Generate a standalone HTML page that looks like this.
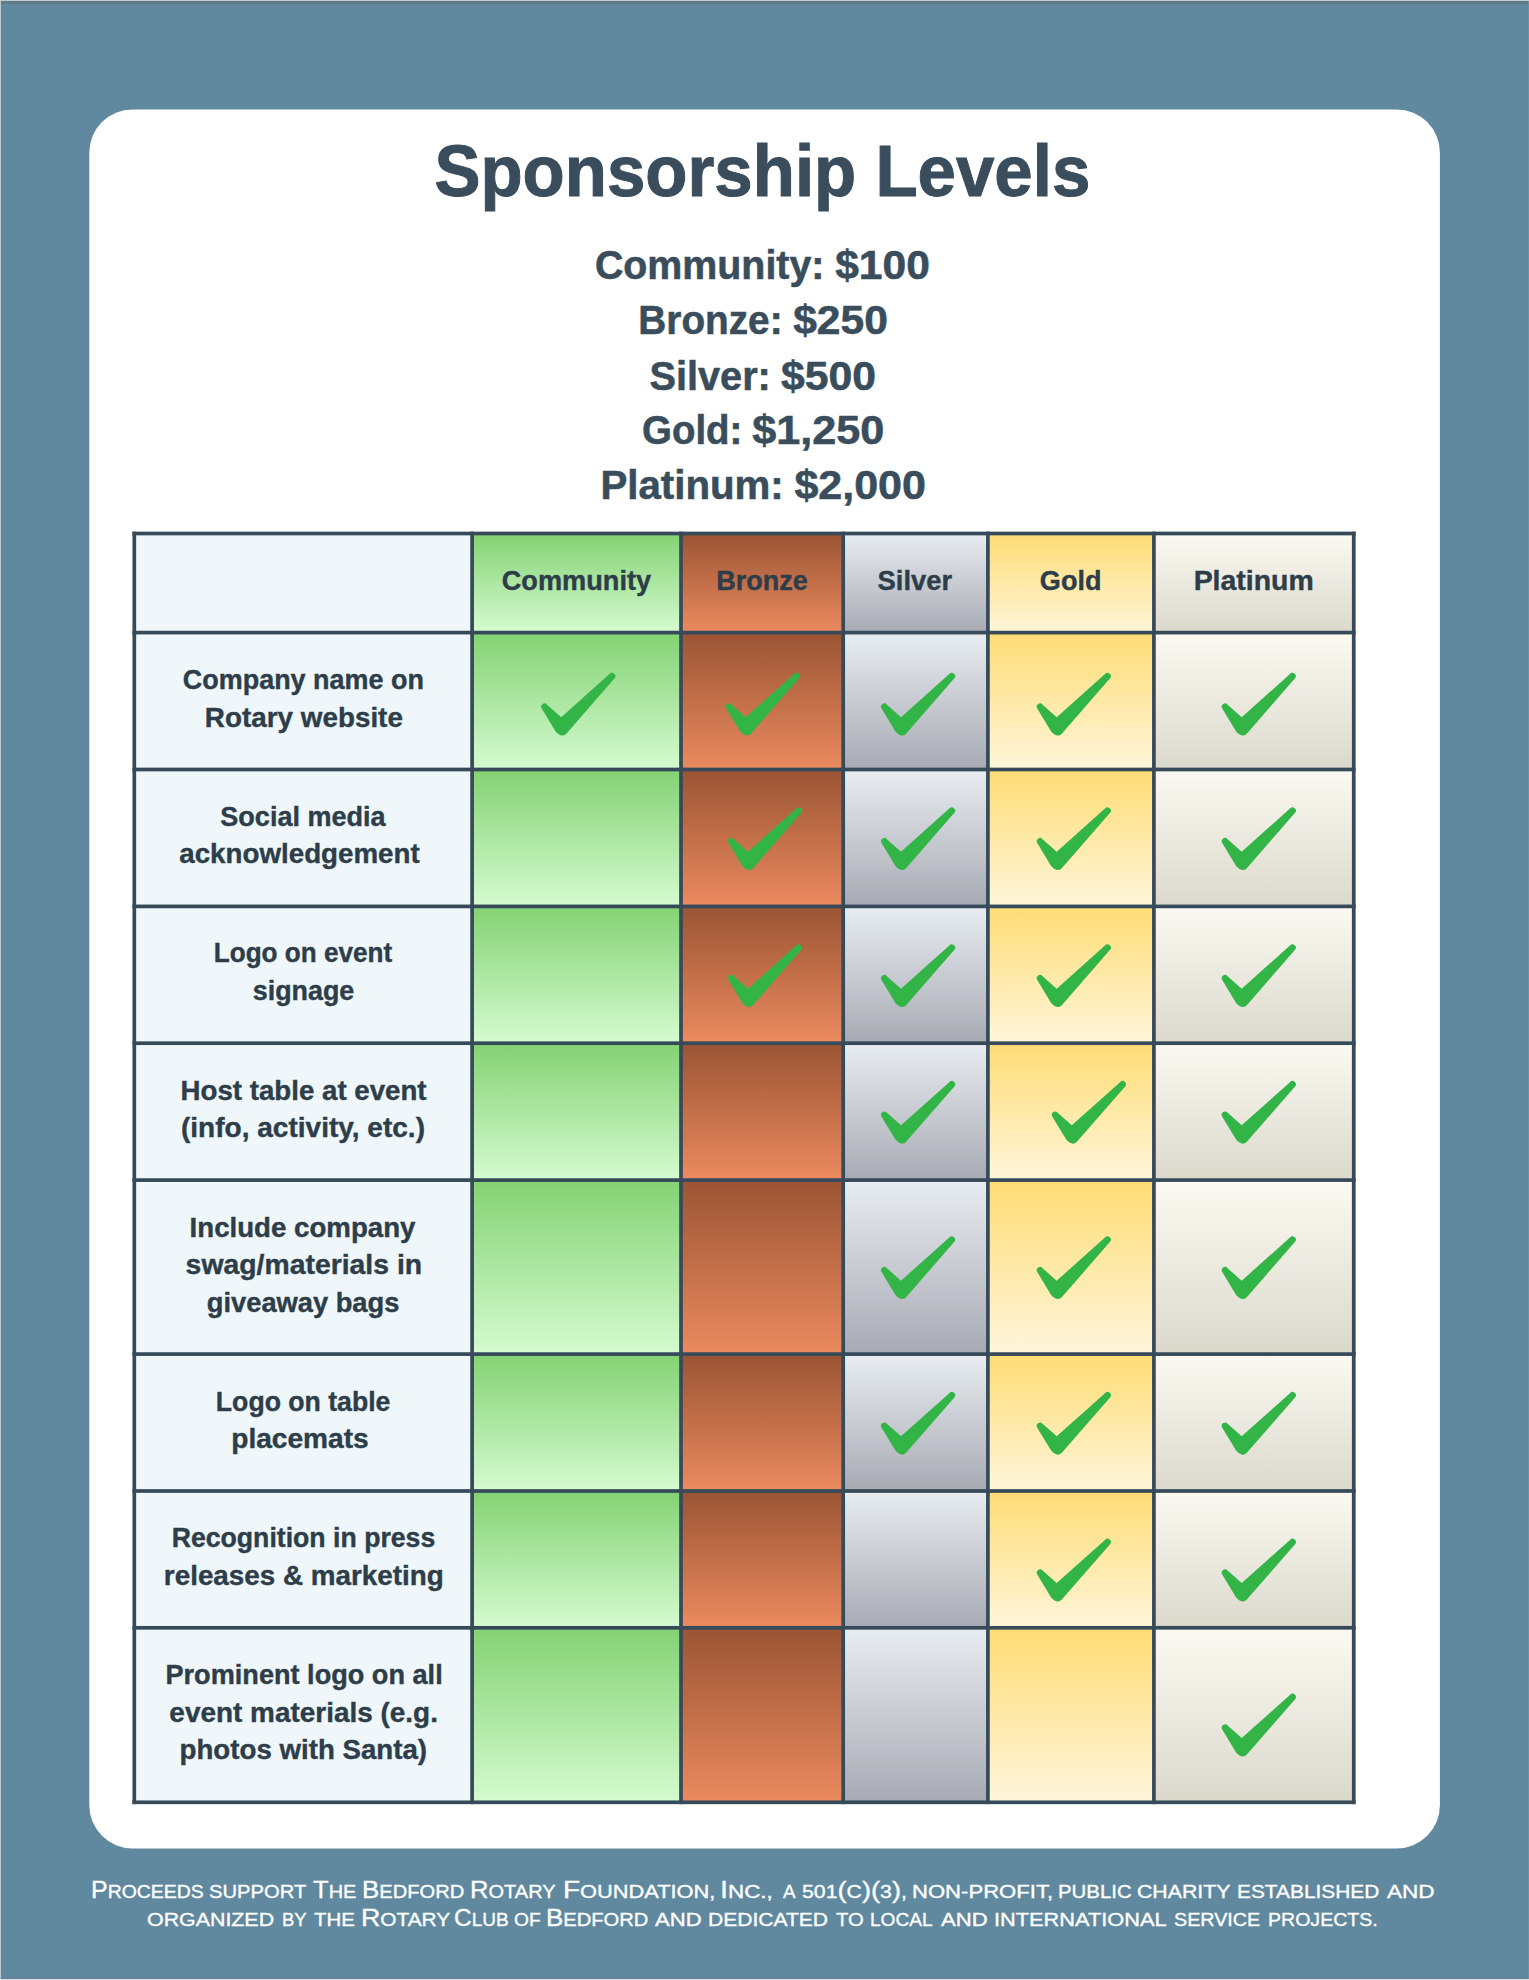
<!DOCTYPE html>
<html lang="en"><head><meta charset="utf-8"><title>Sponsorship Levels</title><style>
html,body{margin:0;padding:0}
body{width:1529px;height:1980px;background:#6089a0;position:relative;overflow:hidden;font-family:"Liberation Sans",sans-serif}
.c,.ln,.t,.ck{position:absolute}
.ln{background:#364a59}
.t{white-space:pre;line-height:1;color:#2d3d49;transform-origin:50% 50%}
.b{font-weight:bold}
.f{color:#fff;font-weight:normal;-webkit-text-stroke:0.35px #fff;font-size:24.0px;transform-origin:0 50%}
.f .s{font-size:78%;text-transform:uppercase}
.ck{left:0;top:0}
</style></head><body>
<div class="c" style="left:0;top:1px;width:1529px;height:3px;background:#627988"></div><div class="c" style="left:0;top:1977px;width:1529px;height:2px;background:linear-gradient(#6089a0,#5f7d90)"></div><div class="c" style="left:1528px;top:0;width:1px;height:1980px;background:#6a90a6"></div><div class="c" style="left:0;top:0;width:1px;height:1980px;background:#bccad3"></div><div class="c" style="left:0;top:0;width:1529px;height:1px;background:#c0cbd2"></div><div class="c" style="left:0;top:1979px;width:1529px;height:1px;background:#dde2e6"></div>
<svg class="ck" width="1529" height="1980" viewBox="0 0 1529 1980"><defs><linearGradient id="g1" x1="0" y1="0" x2="0" y2="1"><stop offset="0" stop-color="#84d273"/><stop offset="1" stop-color="#d5fbd0"/></linearGradient><linearGradient id="g2" x1="0" y1="0" x2="0" y2="1"><stop offset="0" stop-color="#9a5434"/><stop offset="1" stop-color="#eb8a5f"/></linearGradient><linearGradient id="g3" x1="0" y1="0" x2="0" y2="1"><stop offset="0" stop-color="#e8edf1"/><stop offset="1" stop-color="#a8aab3"/></linearGradient><linearGradient id="g4" x1="0" y1="0" x2="0" y2="1"><stop offset="0" stop-color="#fedc74"/><stop offset="1" stop-color="#fff6da"/></linearGradient><linearGradient id="g5" x1="0" y1="0" x2="0" y2="1"><stop offset="0" stop-color="#fcf9f2"/><stop offset="1" stop-color="#dbd8cc"/></linearGradient><path id="k" d="M5.88,31.6 L20,44.1 L68.27,0.94 A3.3,3.3 0 0 1 73.37,5.25 L25.1,60.6 Q20.39,65.3 14.4,58.4 L0.38,35.2 A3.3,3.3 0 0 1 5.88,31.6 Z"/></defs><rect x="89.3" y="109.4" width="1350.6" height="1739.1" rx="43.2" fill="#fff"/><rect x="134.30" y="533.50" width="337.80" height="99.10" fill="#eff7fa"/><rect x="472.10" y="533.50" width="208.90" height="99.10" fill="url(#g1)"/><rect x="681.00" y="533.50" width="162.20" height="99.10" fill="url(#g2)"/><rect x="843.20" y="533.50" width="144.70" height="99.10" fill="url(#g3)"/><rect x="987.90" y="533.50" width="166.00" height="99.10" fill="url(#g4)"/><rect x="1153.90" y="533.50" width="199.85" height="99.10" fill="url(#g5)"/><rect x="134.30" y="632.60" width="337.80" height="136.90" fill="#eff7fa"/><rect x="472.10" y="632.60" width="208.90" height="136.90" fill="url(#g1)"/><rect x="681.00" y="632.60" width="162.20" height="136.90" fill="url(#g2)"/><rect x="843.20" y="632.60" width="144.70" height="136.90" fill="url(#g3)"/><rect x="987.90" y="632.60" width="166.00" height="136.90" fill="url(#g4)"/><rect x="1153.90" y="632.60" width="199.85" height="136.90" fill="url(#g5)"/><rect x="134.30" y="769.50" width="337.80" height="136.90" fill="#eff7fa"/><rect x="472.10" y="769.50" width="208.90" height="136.90" fill="url(#g1)"/><rect x="681.00" y="769.50" width="162.20" height="136.90" fill="url(#g2)"/><rect x="843.20" y="769.50" width="144.70" height="136.90" fill="url(#g3)"/><rect x="987.90" y="769.50" width="166.00" height="136.90" fill="url(#g4)"/><rect x="1153.90" y="769.50" width="199.85" height="136.90" fill="url(#g5)"/><rect x="134.30" y="906.40" width="337.80" height="136.80" fill="#eff7fa"/><rect x="472.10" y="906.40" width="208.90" height="136.80" fill="url(#g1)"/><rect x="681.00" y="906.40" width="162.20" height="136.80" fill="url(#g2)"/><rect x="843.20" y="906.40" width="144.70" height="136.80" fill="url(#g3)"/><rect x="987.90" y="906.40" width="166.00" height="136.80" fill="url(#g4)"/><rect x="1153.90" y="906.40" width="199.85" height="136.80" fill="url(#g5)"/><rect x="134.30" y="1043.20" width="337.80" height="136.90" fill="#eff7fa"/><rect x="472.10" y="1043.20" width="208.90" height="136.90" fill="url(#g1)"/><rect x="681.00" y="1043.20" width="162.20" height="136.90" fill="url(#g2)"/><rect x="843.20" y="1043.20" width="144.70" height="136.90" fill="url(#g3)"/><rect x="987.90" y="1043.20" width="166.00" height="136.90" fill="url(#g4)"/><rect x="1153.90" y="1043.20" width="199.85" height="136.90" fill="url(#g5)"/><rect x="134.30" y="1180.10" width="337.80" height="174.00" fill="#eff7fa"/><rect x="472.10" y="1180.10" width="208.90" height="174.00" fill="url(#g1)"/><rect x="681.00" y="1180.10" width="162.20" height="174.00" fill="url(#g2)"/><rect x="843.20" y="1180.10" width="144.70" height="174.00" fill="url(#g3)"/><rect x="987.90" y="1180.10" width="166.00" height="174.00" fill="url(#g4)"/><rect x="1153.90" y="1180.10" width="199.85" height="174.00" fill="url(#g5)"/><rect x="134.30" y="1354.10" width="337.80" height="136.90" fill="#eff7fa"/><rect x="472.10" y="1354.10" width="208.90" height="136.90" fill="url(#g1)"/><rect x="681.00" y="1354.10" width="162.20" height="136.90" fill="url(#g2)"/><rect x="843.20" y="1354.10" width="144.70" height="136.90" fill="url(#g3)"/><rect x="987.90" y="1354.10" width="166.00" height="136.90" fill="url(#g4)"/><rect x="1153.90" y="1354.10" width="199.85" height="136.90" fill="url(#g5)"/><rect x="134.30" y="1491.00" width="337.80" height="136.80" fill="#eff7fa"/><rect x="472.10" y="1491.00" width="208.90" height="136.80" fill="url(#g1)"/><rect x="681.00" y="1491.00" width="162.20" height="136.80" fill="url(#g2)"/><rect x="843.20" y="1491.00" width="144.70" height="136.80" fill="url(#g3)"/><rect x="987.90" y="1491.00" width="166.00" height="136.80" fill="url(#g4)"/><rect x="1153.90" y="1491.00" width="199.85" height="136.80" fill="url(#g5)"/><rect x="134.30" y="1627.80" width="337.80" height="174.50" fill="#eff7fa"/><rect x="472.10" y="1627.80" width="208.90" height="174.50" fill="url(#g1)"/><rect x="681.00" y="1627.80" width="162.20" height="174.50" fill="url(#g2)"/><rect x="843.20" y="1627.80" width="144.70" height="174.50" fill="url(#g3)"/><rect x="987.90" y="1627.80" width="166.00" height="174.50" fill="url(#g4)"/><rect x="1153.90" y="1627.80" width="199.85" height="174.50" fill="url(#g5)"/><g fill="#364a59"><rect x="132.45" y="531.65" width="3.7" height="1272.50"/><rect x="470.25" y="531.65" width="3.7" height="1272.50"/><rect x="679.15" y="531.65" width="3.7" height="1272.50"/><rect x="841.35" y="531.65" width="3.7" height="1272.50"/><rect x="986.05" y="531.65" width="3.7" height="1272.50"/><rect x="1152.05" y="531.65" width="3.7" height="1272.50"/><rect x="1351.90" y="531.65" width="3.7" height="1272.50"/><rect x="132.45" y="531.65" width="1223.15" height="3.7"/><rect x="132.45" y="630.75" width="1223.15" height="3.7"/><rect x="132.45" y="767.65" width="1223.15" height="3.7"/><rect x="132.45" y="904.55" width="1223.15" height="3.7"/><rect x="132.45" y="1041.35" width="1223.15" height="3.7"/><rect x="132.45" y="1178.25" width="1223.15" height="3.7"/><rect x="132.45" y="1352.25" width="1223.15" height="3.7"/><rect x="132.45" y="1489.15" width="1223.15" height="3.7"/><rect x="132.45" y="1625.95" width="1223.15" height="3.7"/><rect x="132.45" y="1800.45" width="1223.15" height="3.7"/></g><g fill="#32b546"><use href="#k" x="541.2" y="673.1"/><use href="#k" x="725.8" y="673.1"/><use href="#k" x="881.0" y="673.1"/><use href="#k" x="1036.7" y="673.1"/><use href="#k" x="1221.7" y="673.1"/><use href="#k" x="728.0" y="807.6"/><use href="#k" x="881.0" y="807.6"/><use href="#k" x="1036.7" y="807.6"/><use href="#k" x="1221.7" y="807.6"/><use href="#k" x="728.0" y="944.6"/><use href="#k" x="881.0" y="944.6"/><use href="#k" x="1036.7" y="944.6"/><use href="#k" x="1221.7" y="944.6"/><use href="#k" x="881.0" y="1081.2"/><use href="#k" x="1051.8" y="1081.2"/><use href="#k" x="1221.7" y="1081.2"/><use href="#k" x="881.0" y="1236.6"/><use href="#k" x="1036.7" y="1236.6"/><use href="#k" x="1221.7" y="1236.6"/><use href="#k" x="881.0" y="1392.2"/><use href="#k" x="1036.7" y="1392.2"/><use href="#k" x="1221.7" y="1392.2"/><use href="#k" x="1036.7" y="1539.0"/><use href="#k" x="1221.7" y="1539.0"/><use href="#k" x="1221.7" y="1694.0"/></g></svg>
<header>
<div class="t b" style="left:417.06px;top:134.84px;font-size:72.7px;transform:scaleX(0.9496);color:#3a4d5c;-webkit-text-stroke:1.02px;">Sponsorship Levels</div>
<div class="t b" style="left:593.01px;top:244.93px;font-size:40.0px;transform:scaleX(0.9835);color:#3a4d5c;-webkit-text-stroke:0.56px;">Community:</div>
<div class="t b" style="left:838.00px;top:244.93px;font-size:40.0px;transform:scaleX(1.0631);color:#3a4d5c;-webkit-text-stroke:0.56px;">$100</div>
<div class="t b" style="left:635.56px;top:300.43px;font-size:40.0px;transform:scaleX(0.9685);color:#3a4d5c;-webkit-text-stroke:0.56px;">Bronze:</div>
<div class="t b" style="left:796.00px;top:300.43px;font-size:40.0px;transform:scaleX(1.0631);color:#3a4d5c;-webkit-text-stroke:0.56px;">$250</div>
<div class="t b" style="left:648.87px;top:355.73px;font-size:40.0px;transform:scaleX(0.9926);color:#3a4d5c;-webkit-text-stroke:0.56px;">Silver:</div>
<div class="t b" style="left:784.40px;top:355.73px;font-size:40.0px;transform:scaleX(1.0677);color:#3a4d5c;-webkit-text-stroke:0.56px;">$500</div>
<div class="t b" style="left:639.61px;top:410.03px;font-size:40.0px;transform:scaleX(0.9598);color:#3a4d5c;-webkit-text-stroke:0.56px;">Gold:</div>
<div class="t b" style="left:757.01px;top:410.03px;font-size:40.0px;transform:scaleX(1.0791);color:#3a4d5c;-webkit-text-stroke:0.56px;">$1,250</div>
<div class="t b" style="left:601.07px;top:465.43px;font-size:40.0px;transform:scaleX(1.0060);color:#3a4d5c;-webkit-text-stroke:0.56px;">Platinum:</div>
<div class="t b" style="left:799.41px;top:465.43px;font-size:40.0px;transform:scaleX(1.0755);color:#3a4d5c;-webkit-text-stroke:0.56px;">$2,000</div>
</header>
<main>
<div class="t b" style="left:500.31px;top:567.46px;font-size:27.8px;transform:scaleX(0.9780);-webkit-text-stroke:0.39px;">Community</div>
<div class="t b" style="left:714.63px;top:567.46px;font-size:27.8px;transform:scaleX(0.9715);-webkit-text-stroke:0.39px;">Bronze</div>
<div class="t b" style="left:877.38px;top:567.46px;font-size:27.8px;transform:scaleX(0.9836);-webkit-text-stroke:0.39px;">Silver</div>
<div class="t b" style="left:1038.77px;top:567.46px;font-size:27.8px;transform:scaleX(0.9739);-webkit-text-stroke:0.39px;">Gold</div>
<div class="t b" style="left:1195.31px;top:567.46px;font-size:27.8px;transform:scaleX(1.0231);-webkit-text-stroke:0.39px;">Platinum</div>
<div class="t b" style="left:179.19px;top:666.06px;font-size:27.8px;transform:scaleX(0.9694);-webkit-text-stroke:0.39px;">Company name on</div>
<div class="t b" style="left:204.62px;top:704.06px;font-size:27.8px;transform:scaleX(1.0014);-webkit-text-stroke:0.39px;">Rotary website</div>
<div class="t b" style="left:217.69px;top:802.76px;font-size:27.8px;transform:scaleX(0.9729);-webkit-text-stroke:0.39px;">Social media</div>
<div class="t b" style="left:178.75px;top:840.16px;font-size:27.8px;transform:scaleX(0.9979);-webkit-text-stroke:0.39px;">acknowledgement</div>
<div class="t b" style="left:207.75px;top:939.36px;font-size:27.8px;transform:scaleX(0.9396);-webkit-text-stroke:0.39px;">Logo on event</div>
<div class="t b" style="left:251.25px;top:976.76px;font-size:27.8px;transform:scaleX(0.9670);-webkit-text-stroke:0.39px;">signage</div>
<div class="t b" style="left:179.74px;top:1076.76px;font-size:27.8px;transform:scaleX(0.9955);-webkit-text-stroke:0.39px;">Host table at event</div>
<div class="t b" style="left:181.50px;top:1114.16px;font-size:27.8px;transform:scaleX(1.0084);-webkit-text-stroke:0.39px;">(info, activity, etc.)</div>
<div class="t b" style="left:188.94px;top:1213.86px;font-size:27.8px;transform:scaleX(0.9951);-webkit-text-stroke:0.39px;">Include company</div>
<div class="t b" style="left:187.88px;top:1251.16px;font-size:27.8px;transform:scaleX(1.0206);-webkit-text-stroke:0.39px;">swag/materials in</div>
<div class="t b" style="left:205.33px;top:1288.56px;font-size:27.8px;transform:scaleX(0.9811);-webkit-text-stroke:0.39px;">giveaway bags</div>
<div class="t b" style="left:211.68px;top:1387.76px;font-size:27.8px;transform:scaleX(0.9576);-webkit-text-stroke:0.39px;">Logo on table</div>
<div class="t b" style="left:232.25px;top:1425.16px;font-size:27.8px;transform:scaleX(1.0115);-webkit-text-stroke:0.39px;">placemats</div>
<div class="t b" style="left:165.81px;top:1524.36px;font-size:27.8px;transform:scaleX(0.9587);-webkit-text-stroke:0.39px;">Recognition in press</div>
<div class="t b" style="left:163.62px;top:1561.76px;font-size:27.8px;transform:scaleX(1.0011);-webkit-text-stroke:0.39px;">releases &amp; marketing</div>
<div class="t b" style="left:161.69px;top:1661.26px;font-size:27.8px;transform:scaleX(0.9757);-webkit-text-stroke:0.39px;">Prominent logo on all</div>
<div class="t b" style="left:170.13px;top:1698.56px;font-size:27.8px;transform:scaleX(1.0048);-webkit-text-stroke:0.39px;">event materials (e.g.</div>
<div class="t b" style="left:179.44px;top:1735.96px;font-size:27.8px;transform:scaleX(0.9956);-webkit-text-stroke:0.39px;">photos with Santa)</div>
</main>
<footer>
<div class="t f" style="left:90.76px;top:1878.28px;transform:scaleX(1.0395)">P<span class="s">roceeds</span></div>
<div class="t f" style="left:208.72px;top:1878.28px;transform:scaleX(1.0797)"><span class="s">support</span></div>
<div class="t f" style="left:313.33px;top:1878.28px;transform:scaleX(1.0668)">T<span class="s">he</span></div>
<div class="t f" style="left:361.72px;top:1878.28px;transform:scaleX(1.0762)">B<span class="s">edford</span></div>
<div class="t f" style="left:469.53px;top:1878.28px;transform:scaleX(1.0685)">R<span class="s">otary</span></div>
<div class="t f" style="left:562.63px;top:1878.28px;transform:scaleX(1.1659)">F<span class="s">oundation,</span></div>
<div class="t f" style="left:719.80px;top:1878.28px;transform:scaleX(1.1978)">I<span class="s">nc.,</span></div>
<div class="t f" style="left:782.79px;top:1878.28px;transform:scaleX(1.0072)"><span class="s">a</span></div>
<div class="t f" style="left:801.86px;top:1878.28px;transform:scaleX(1.1361)"><span class="s">501</span>(<span class="s">c</span>)(<span class="s">3</span>)<span class="s">,</span></div>
<div class="t f" style="left:911.82px;top:1878.28px;transform:scaleX(1.1807)"><span class="s">non-profit,</span></div>
<div class="t f" style="left:1058.31px;top:1878.28px;transform:scaleX(1.0899)"><span class="s">public</span></div>
<div class="t f" style="left:1137.06px;top:1878.28px;transform:scaleX(1.1366)"><span class="s">charity</span></div>
<div class="t f" style="left:1237.38px;top:1878.28px;transform:scaleX(1.1164)"><span class="s">established</span></div>
<div class="t f" style="left:1386.59px;top:1878.28px;transform:scaleX(1.2065)"><span class="s">and</span></div>
<div class="t f" style="left:147.06px;top:1906.08px;transform:scaleX(1.1428)"><span class="s">organized</span></div>
<div class="t f" style="left:282.01px;top:1906.08px;transform:scaleX(0.9862)"><span class="s">by</span></div>
<div class="t f" style="left:314.11px;top:1906.08px;transform:scaleX(1.0916)"><span class="s">the</span></div>
<div class="t f" style="left:360.89px;top:1906.08px;transform:scaleX(1.1143)">R<span class="s">otary</span></div>
<div class="t f" style="left:453.78px;top:1906.08px;transform:scaleX(1.0184)">C<span class="s">lub</span></div>
<div class="t f" style="left:513.77px;top:1906.08px;transform:scaleX(1.0269)"><span class="s">of</span></div>
<div class="t f" style="left:545.72px;top:1906.08px;transform:scaleX(1.0783)">B<span class="s">edford</span></div>
<div class="t f" style="left:655.32px;top:1906.08px;transform:scaleX(1.1800)"><span class="s">and</span></div>
<div class="t f" style="left:707.87px;top:1906.08px;transform:scaleX(1.1255)"><span class="s">dedicated</span></div>
<div class="t f" style="left:835.92px;top:1906.08px;transform:scaleX(1.0843)"><span class="s">to</span></div>
<div class="t f" style="left:870.18px;top:1906.08px;transform:scaleX(1.0210)"><span class="s">local</span></div>
<div class="t f" style="left:940.62px;top:1906.08px;transform:scaleX(1.1800)"><span class="s">and</span></div>
<div class="t f" style="left:993.84px;top:1906.08px;transform:scaleX(1.1636)"><span class="s">international</span></div>
<div class="t f" style="left:1173.75px;top:1906.08px;transform:scaleX(1.0536)"><span class="s">service</span></div>
<div class="t f" style="left:1267.95px;top:1906.08px;transform:scaleX(1.0454)"><span class="s">projects.</span></div>
</footer>
</body></html>
